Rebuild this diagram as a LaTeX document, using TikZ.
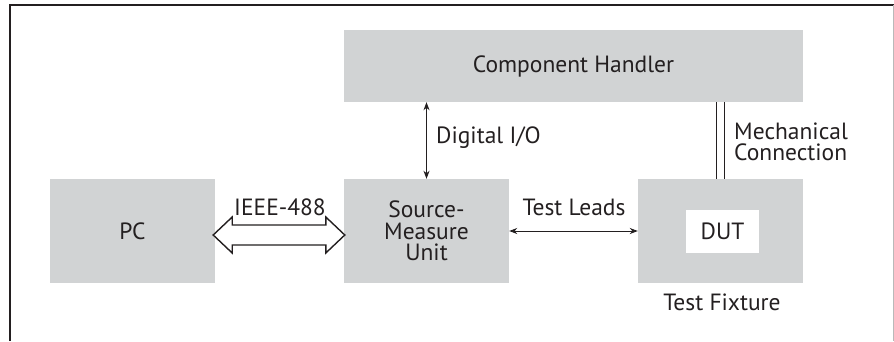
\documentclass[tikz,border=0pt]{standalone}
\usepackage{fontspec}
\setmainfont{PT Sans}
\usetikzlibrary{arrows.meta,calc}
\definecolor{boxgray}{HTML}{D1D3D4}
\definecolor{ink}{HTML}{231F20}
\begin{document}
\begin{tikzpicture}[x=1pt,y=-1pt,
  every node/.style={font=\fontsize{23.5}{21.5}\selectfont, text=ink},
  blockbox/.style={fill=boxgray, inner sep=0pt, draw=none},
  lbl/.style={inner sep=0pt},
  thinarrow/.style={draw=ink, line width=0.9pt, {Stealth[length=8pt,width=6pt,inset=2.5pt]}-{Stealth[length=8pt,width=6pt,inset=2.5pt]}},
  mechline/.style={draw=ink, line width=1.8pt}
]
\useasboundingbox (0,0) rectangle (894,341);
% frame
\draw[ink, line width=1.5pt] (10,341) -- (10,5) -- (894,5);
\draw[gray!55, line width=1pt] (893,5) -- (893,341);

% blocks
\node[blockbox, minimum width=459pt, minimum height=72pt] (ch) at (573.5,66) {Component Handler};
\node[blockbox, minimum width=165pt, minimum height=104pt] (pc) at (132.5,231) {PC};
\node[blockbox, minimum width=165pt, minimum height=104pt, align=center] (smu) at (426.5,231) {Source-\\Measure\\Unit};
\node[blockbox, minimum width=165pt, minimum height=104pt] (tf) at (720.5,231) {};
\node[fill=white, inner sep=0pt, minimum width=73pt, minimum height=43pt] (dut) at (722.5,231.5) {DUT};
\node[lbl] (tflabel) at (722,302) {Test Fixture};

% Digital I/O
\draw[thinarrow] (smu.north) -- (ch.south -| smu.north);
\node[lbl, anchor=west] (dio) at (436,138) {Digital I/O};

% Mechanical connection
\coordinate (m1a) at ($(ch.south -| tf.north)+(-4,0)$);
\coordinate (m2a) at ($(ch.south -| tf.north)+(4,0)$);
\draw[mechline] (m1a) -- (m1a |- tf.north);
\draw[mechline] (m2a) -- (m2a |- tf.north);
\node[lbl, anchor=west, align=left] (mech) at (734,142) {Mechanical\\Connection};

% Test leads
\draw[thinarrow] (smu.east) -- (tf.west);
\node[lbl] (tl) at (574,207) {Test Leads};

% IEEE-488 hollow double arrow
\coordinate (lt) at ($(pc.east)+(-2,4)$);
\coordinate (rt) at ($(smu.west)+(1,4)$);
\draw[ink, fill=white, line width=1.4pt, line join=miter]
  (lt) -- ($(lt)+(19,-18)$) -- ($(lt)+(19,-10)$) -- ($(rt)+(-19,-10)$) -- ($(rt)+(-19,-18)$)
  -- (rt) -- ($(rt)+(-19,18)$) -- ($(rt)+(-19,10)$) -- ($(lt)+(19,10)$) -- ($(lt)+(19,18)$) -- cycle;
\node[lbl] (ieee) at (280,207) {IEEE-488};
\end{tikzpicture}
\end{document}
